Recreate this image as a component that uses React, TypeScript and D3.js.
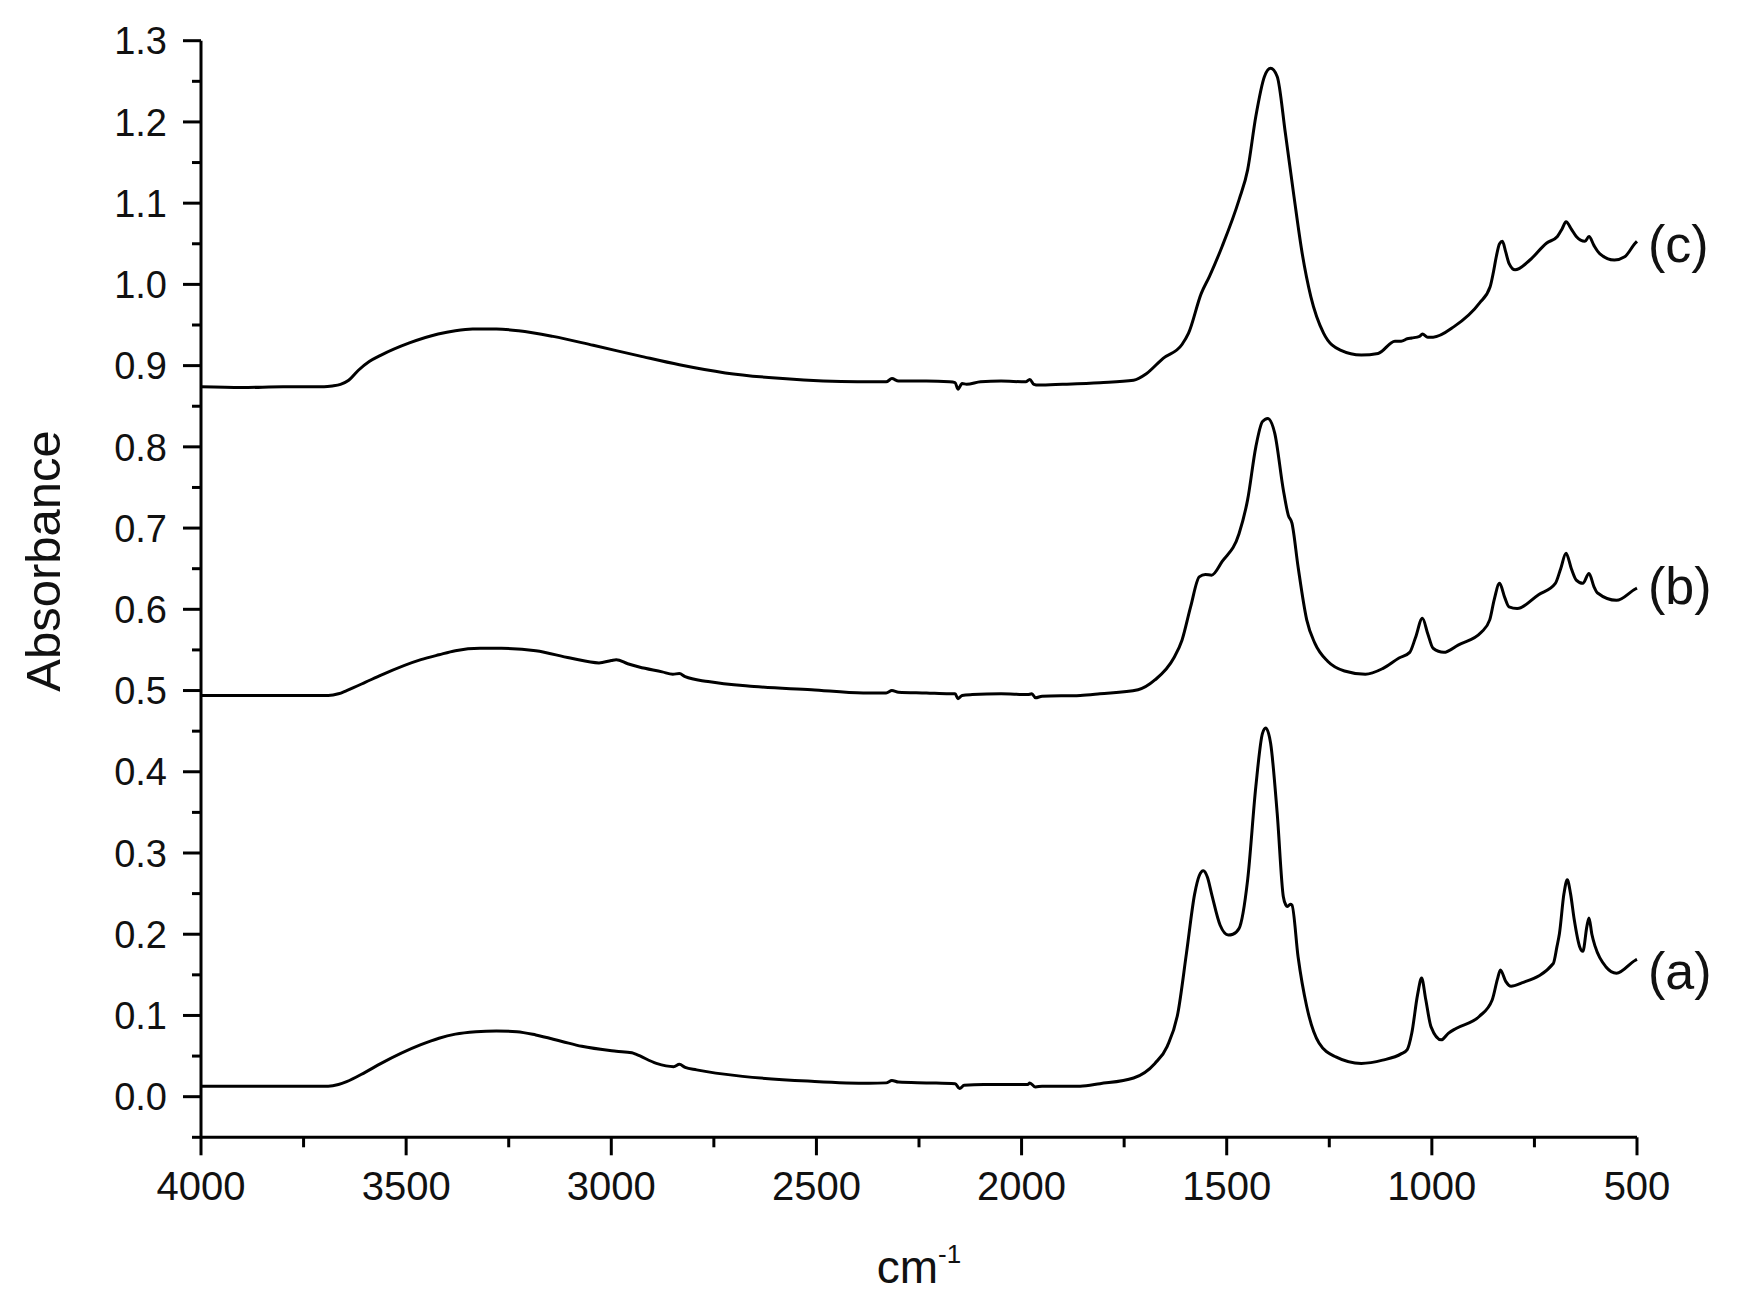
import React from "react";
import * as d3 from "d3";

// [wavenumber (cm-1), absorbance]
const seriesC: [number, number][] = [
  [4000,0.874],[3900,0.873],[3800,0.874],[3700,0.874],[3680,0.875],[3660,0.877],[3640,0.882],[3617,0.894],[3590,0.905],[3561,0.913],[3492,0.928],[3422,0.939],[3380,0.943],[3338,0.945],[3280,0.945],[3226,0.943],[3142,0.936],[3044,0.925],[2932,0.912],[2834,0.901],[2722,0.891],[2582,0.884],[2400,0.880],[2330,0.880],[2316,0.884],[2300,0.881],[2232,0.881],[2176,0.880],[2162,0.879],[2155,0.871],[2145,0.878],[2134,0.877],[2100,0.880],[2050,0.881],[1990,0.880],[1980,0.883],[1970,0.877],[1959,0.876],[1900,0.877],[1809,0.879],[1727,0.882],[1696,0.890],[1655,0.909],[1609,0.926],[1593,0.940],[1562,0.989],[1542,1.010],[1511,1.047],[1470,1.104],[1449,1.141],[1429,1.207],[1408,1.256],[1393,1.266],[1377,1.256],[1357,1.186],[1336,1.108],[1316,1.038],[1295,0.985],[1264,0.940],[1223,0.919],[1172,0.913],[1131,0.915],[1090,0.930],[1075,0.930],[1060,0.933],[1049,0.934],[1030,0.936],[1023,0.939],[1010,0.935],[997,0.935],[946,0.948],[884,0.977],[858,0.997],[850,1.015],[843,1.034],[835,1.050],[828,1.053],[820,1.040],[812,1.026],[797,1.018],[761,1.030],[720,1.051],[694,1.059],[683,1.068],[673,1.077],[660,1.068],[648,1.059],[627,1.053],[617,1.059],[605,1.048],[591,1.038],[555,1.030],[530,1.034],[504,1.051],[500,1.053]
];

const seriesB: [number, number][] = [
  [4000,0.494],[3800,0.494],[3690,0.494],[3665,0.496],[3645,0.500],[3600,0.510],[3561,0.519],[3464,0.538],[3420,0.544],[3380,0.549],[3320,0.552],[3268,0.552],[3184,0.549],[3100,0.540],[3030,0.534],[3000,0.537],[2988,0.538],[2960,0.533],[2932,0.529],[2876,0.523],[2850,0.520],[2834,0.521],[2820,0.517],[2764,0.511],[2652,0.505],[2512,0.501],[2386,0.497],[2330,0.497],[2316,0.500],[2300,0.498],[2232,0.497],[2176,0.496],[2162,0.496],[2155,0.490],[2145,0.494],[2120,0.495],[2050,0.496],[1985,0.495],[1975,0.496],[1966,0.491],[1950,0.493],[1857,0.494],[1809,0.496],[1716,0.501],[1675,0.513],[1629,0.540],[1609,0.562],[1588,0.603],[1567,0.640],[1552,0.643],[1537,0.642],[1511,0.659],[1470,0.693],[1449,0.735],[1429,0.800],[1413,0.831],[1400,0.835],[1383,0.817],[1362,0.747],[1350,0.716],[1341,0.706],[1326,0.652],[1305,0.587],[1285,0.558],[1254,0.536],[1213,0.524],[1162,0.520],[1120,0.527],[1080,0.540],[1054,0.547],[1040,0.565],[1023,0.589],[1010,0.570],[997,0.552],[971,0.547],[936,0.556],[879,0.572],[859,0.587],[848,0.612],[835,0.632],[822,0.614],[812,0.603],[792,0.601],[740,0.618],[699,0.632],[686,0.650],[673,0.669],[660,0.650],[648,0.636],[632,0.632],[617,0.644],[605,0.628],[596,0.620],[550,0.611],[504,0.625],[500,0.626]
];

const seriesA: [number, number][] = [
  [4000,0.013],[3800,0.013],[3690,0.013],[3665,0.015],[3645,0.0185],[3600,0.030],[3561,0.041],[3464,0.064],[3420,0.072],[3380,0.077],[3330,0.080],[3280,0.081],[3230,0.080],[3184,0.076],[3120,0.068],[3072,0.062],[2988,0.056],[2950,0.054],[2939,0.052],[2890,0.041],[2848,0.037],[2834,0.040],[2820,0.036],[2792,0.033],[2680,0.025],[2512,0.019],[2372,0.0165],[2330,0.017],[2316,0.020],[2300,0.018],[2232,0.017],[2162,0.016],[2151,0.010],[2140,0.014],[2092,0.015],[2036,0.015],[1985,0.015],[1980,0.017],[1966,0.012],[1950,0.013],[1857,0.013],[1809,0.016],[1727,0.023],[1675,0.041],[1645,0.062],[1619,0.103],[1598,0.177],[1578,0.250],[1567,0.272],[1557,0.278],[1547,0.270],[1537,0.250],[1516,0.211],[1496,0.199],[1485,0.200],[1470,0.207],[1449,0.267],[1429,0.382],[1413,0.447],[1405,0.454],[1393,0.435],[1377,0.349],[1362,0.246],[1356,0.236],[1352,0.234],[1345,0.237],[1341,0.236],[1326,0.172],[1305,0.111],[1275,0.066],[1234,0.049],[1172,0.041],[1120,0.045],[1074,0.053],[1060,0.058],[1049,0.078],[1035,0.125],[1025,0.146],[1015,0.120],[1002,0.086],[977,0.070],[960,0.078],[941,0.084],[884,0.099],[853,0.119],[840,0.145],[833,0.156],[820,0.142],[807,0.136],[781,0.140],[704,0.164],[695,0.185],[689,0.201],[678,0.250],[670,0.267],[662,0.250],[653,0.218],[640,0.185],[632,0.179],[622,0.210],[617,0.220],[610,0.200],[602,0.185],[576,0.160],[550,0.152],[504,0.168],[500,0.169]
];

const seriesLabels = ["(a)", "(b)", "(c)"];
const labelBaselineValues = [0.132, 0.607, 1.028];

const xMajorTicks = [4000, 3500, 3000, 2500, 2000, 1500, 1000, 500];
const xMinorTicks = [3750, 3250, 2750, 2250, 1750, 1250, 750];
const yMajorTicks = [0, 0.1, 0.2, 0.3, 0.4, 0.5, 0.6, 0.7, 0.8, 0.9, 1.0, 1.1, 1.2, 1.3];
const yMinorTicks = [-0.05, 0.05, 0.15, 0.25, 0.35, 0.45, 0.55, 0.65, 0.75, 0.85, 0.95, 1.05, 1.15, 1.25];

const FONT = "'Liberation Sans', Arial, 'DejaVu Sans', sans-serif";

export default function App() {
  const W = 1761, H = 1310;
  const x = d3.scaleLinear().domain([4000, 500]).range([201, 1637]);
  const y = d3.scaleLinear().domain([-0.05, 1.3]).range([1137.3, 40.7]);
  const line = d3
    .line<[number, number]>()
    .x((d) => x(d[0]))
    .y((d) => y(d[1]))
    .curve(d3.curveMonotoneX);

  const all = [seriesA, seriesB, seriesC];
  const axisY = y(-0.05);
  const axisX = x(4000);

  return (
    <div style={{ position: "absolute", left: 0, top: 0 }}>
      <svg width={W} height={H} style={{ display: "block", background: "#fff" }}>
        <rect x={0} y={0} width={W} height={H} fill="#fff" />
        {all.map((s, i) => (
          <path key={i} d={line([...s].sort((a, b) => b[0] - a[0])) || ""} fill="none" stroke="#000" strokeWidth={3} strokeLinejoin="round" />
        ))}
        {/* axes */}
        <line x1={axisX} y1={y(1.3)} x2={axisX} y2={axisY} stroke="#000" strokeWidth={3} />
        <line x1={axisX} y1={axisY} x2={x(500)} y2={axisY} stroke="#000" strokeWidth={3} />
        {yMajorTicks.map((t) => (
          <g key={"ym" + t}>
            <line x1={axisX - 18} x2={axisX} y1={y(t)} y2={y(t)} stroke="#000" strokeWidth={3} />
            <text x={167} y={y(t)} dy="0.36em" textAnchor="end" fontFamily={FONT} fontSize={38} fill="#111">
              {t.toFixed(1)}
            </text>
          </g>
        ))}
        {yMinorTicks.map((t) => (
          <line key={"yn" + t} x1={axisX - 9} x2={axisX} y1={y(t)} y2={y(t)} stroke="#000" strokeWidth={3} />
        ))}
        {xMajorTicks.map((t) => (
          <g key={"xm" + t}>
            <line x1={x(t)} x2={x(t)} y1={axisY} y2={axisY + 18} stroke="#000" strokeWidth={3} />
            <text x={x(t)} y={1200} textAnchor="middle" fontFamily={FONT} fontSize={40} fill="#111">
              {t}
            </text>
          </g>
        ))}
        {xMinorTicks.map((t) => (
          <line key={"xn" + t} x1={x(t)} x2={x(t)} y1={axisY} y2={axisY + 10} stroke="#000" strokeWidth={3} />
        ))}
        {/* axis titles */}
        <text transform={`translate(60, 561) rotate(-90)`} textAnchor="middle" fontFamily={FONT} fontSize={49} fill="#111">
          Absorbance
        </text>
        <text x={919} y={1283} textAnchor="middle" fontFamily={FONT} fontSize={46} fill="#111">
          cm<tspan fontSize={26} dy={-20}>-1</tspan>
        </text>
        {/* series labels */}
        {seriesLabels.map((l, i) => (
          <text key={l} x={1648} y={y(labelBaselineValues[i])} fontFamily={FONT} fontSize={52} fill="#111">
            {l}
          </text>
        ))}
      </svg>
    </div>
  );
}
